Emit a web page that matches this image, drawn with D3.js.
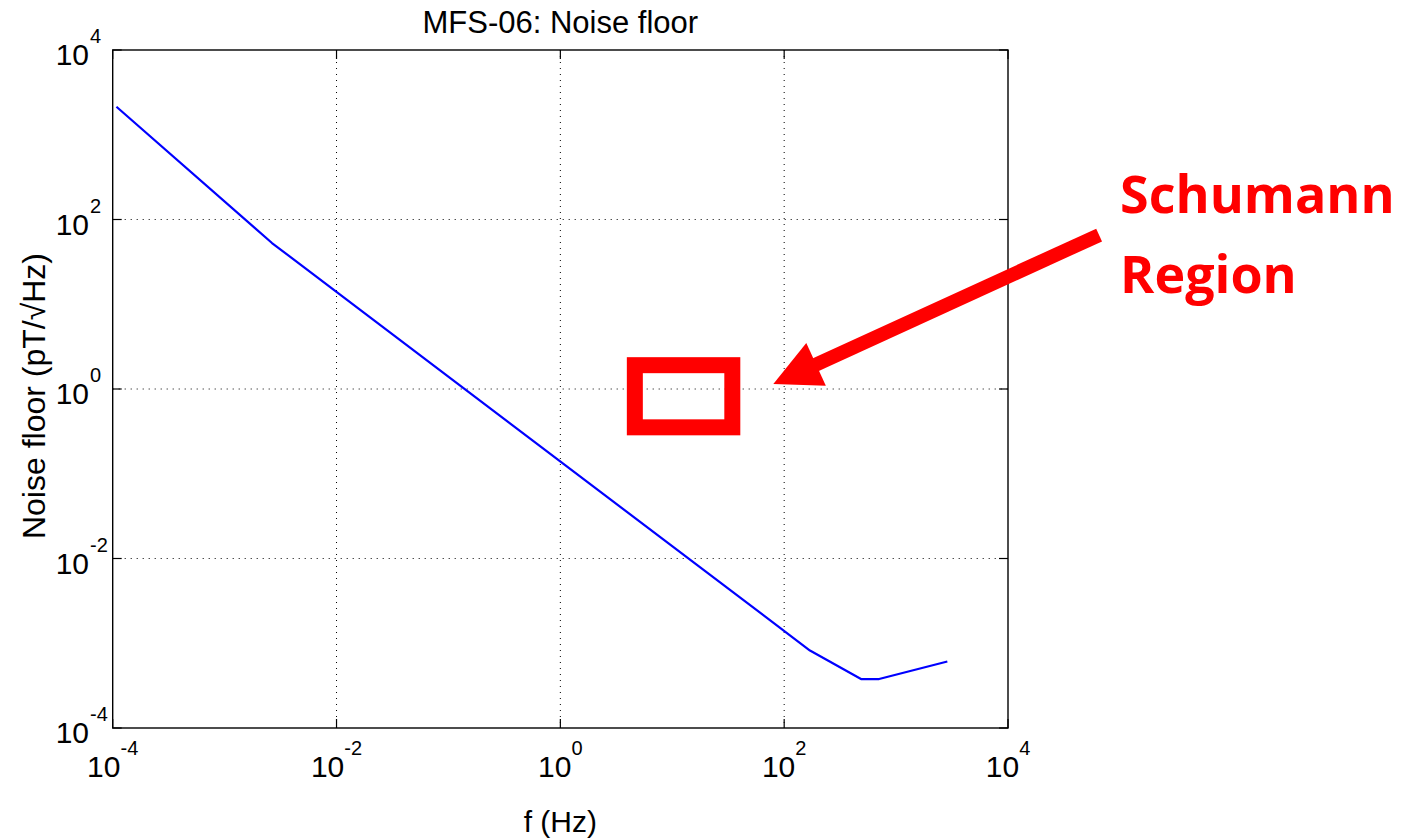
<!DOCTYPE html>
<html>
<head>
<meta charset="utf-8">
<script src="https://cdn.jsdelivr.net/npm/d3@7"></script>
<style>
  body { margin: 0; background: #fff; }
  svg text { font-family: "Liberation Sans", Arial, sans-serif; }
</style>
</head>
<body>
<div id="chart"></div>
<script>
// noise floor curve
const freq = [1.08e-4, 2.65e-3, 170, 486, 705, 2870];
const noise = [2140, 52.8, 8.2e-4, 3.78e-4, 3.78e-4, 6.1e-4];

const tickVals = [1e-4, 1e-2, 1e0, 1e2, 1e4];
const tickExps = ["-4", "-2", "0", "2", "4"];

// annotation, in data units
const boxF = [4.63, 34.4];
const boxN = [0.353, 1.91];
const arrowF = [65200, 80];   // tail, tip
const arrowN = [65.6, 1.146];
const calloutLines = ["Schumann", "Region"];

const svg = d3.select("#chart").append("svg")
    .attr("width", 1424)
    .attr("height", 838);

const margin = { top: 50, right: 416, bottom: 110, left: 112.7 },
    width = 1424 - margin.left - margin.right,
    height = 838 - margin.top - margin.bottom;

const x = d3.scaleLog().domain([1e-4, 1e4]).range([margin.left, margin.left + width]);
const y = d3.scaleLog().domain([1e-4, 1e4]).range([margin.top + height, margin.top]);

// grid
const grid = svg.append("g")
    .attr("stroke", "#000")
    .attr("stroke-width", 1)
    .attr("stroke-dasharray", "1,5");
grid.selectAll(".gx").data(tickVals.slice(1, -1)).enter().append("line")
    .attr("x1", d => x(d)).attr("x2", d => x(d))
    .attr("y1", margin.top).attr("y2", margin.top + height);
grid.selectAll(".gy").data(tickVals.slice(1, -1)).enter().append("line")
    .attr("y1", d => y(d)).attr("y2", d => y(d))
    .attr("x1", margin.left).attr("x2", margin.left + width);

// inward ticks on all four sides
const tk = 9;
const ticks = svg.append("g").attr("stroke", "#000").attr("stroke-width", 1.2);
tickVals.forEach(v => {
    ticks.append("line").attr("x1", x(v)).attr("x2", x(v)).attr("y1", margin.top + height).attr("y2", margin.top + height - tk);
    ticks.append("line").attr("x1", x(v)).attr("x2", x(v)).attr("y1", margin.top).attr("y2", margin.top + tk);
    ticks.append("line").attr("y1", y(v)).attr("y2", y(v)).attr("x1", margin.left).attr("x2", margin.left + tk);
    ticks.append("line").attr("y1", y(v)).attr("y2", y(v)).attr("x1", margin.left + width).attr("x2", margin.left + width - tk);
});

// box
svg.append("rect")
    .attr("x", margin.left).attr("y", margin.top)
    .attr("width", width).attr("height", height)
    .attr("fill", "none").attr("stroke", "#000").attr("stroke-width", 1.4);

// tick labels
const xl = svg.append("g").selectAll("text").data(tickVals).enter().append("text")
    .attr("x", d => x(d))
    .attr("y", margin.top + height + 49)
    .attr("text-anchor", "middle")
    .style("font-size", "30px");
xl.append("tspan").text("10");
xl.append("tspan").attr("dy", -22).style("font-size", "20px").text((d, i) => tickExps[i]);

const yl = svg.append("g").selectAll("text").data(tickVals).enter().append("text")
    .attr("x", margin.left - 57)
    .attr("y", d => y(d) + 15)
    .style("font-size", "30px");
yl.append("tspan").text("10");
yl.append("tspan").attr("dy", -22).attr("dx", 1).style("font-size", "20px").text((d, i) => tickExps[i]);

// titles
svg.append("text")
    .attr("x", margin.left + width / 2)
    .attr("y", 33)
    .attr("text-anchor", "middle")
    .style("font-size", "31px")
    .text("MFS-06: Noise floor");

svg.append("text")
    .attr("x", margin.left + width / 2)
    .attr("y", 832)
    .attr("text-anchor", "middle")
    .style("font-size", "30px")
    .text("f (Hz)");

svg.append("text")
    .attr("transform", `translate(45,${margin.top + height / 2 + 7}) rotate(-90)`)
    .attr("text-anchor", "middle")
    .style("font-size", "32px")
    .text("Noise floor (pT/\u221AHz)");

// curve
const pts = freq.map((f, i) => [f, noise[i]]);
svg.append("path")
    .datum(pts)
    .attr("fill", "none")
    .attr("stroke", "#0000ff")
    .attr("stroke-width", 2.2)
    .attr("stroke-linejoin", "round")
    .attr("d", d3.line().x(d => x(d[0])).y(d => y(d[1])));

// Schumann annotation
svg.append("rect")
    .attr("x", x(boxF[0])).attr("y", y(boxN[1]))
    .attr("width", x(boxF[1]) - x(boxF[0]))
    .attr("height", y(boxN[0]) - y(boxN[1]))
    .attr("fill", "none").attr("stroke", "#ff0000").attr("stroke-width", 16);

const tail = [x(arrowF[0]), y(arrowN[0])], tip = [x(arrowF[1]), y(arrowN[1])];
const dx = tip[0] - tail[0], dy = tip[1] - tail[1], len = Math.hypot(dx, dy);
const ux = dx / len, uy = dy / len;
const headLen = 47, headHalf = 23.5;
const base = [tip[0] - ux * headLen, tip[1] - uy * headLen];
svg.append("line")
    .attr("x1", tail[0]).attr("y1", tail[1])
    .attr("x2", base[0] + ux * 2).attr("y2", base[1] + uy * 2)
    .attr("stroke", "#ff0000").attr("stroke-width", 14);
svg.append("polygon")
    .attr("points", [tip,
        [base[0] - uy * headHalf, base[1] + ux * headHalf],
        [base[0] + uy * headHalf, base[1] - ux * headHalf]].map(p => p.join(",")).join(" "))
    .attr("fill", "#ff0000");

svg.append("g").selectAll("text").data(calloutLines).enter().append("text")
    .attr("x", tail[0] + 21)
    .attr("y", (d, i) => 213 + i * 80)
    .style("font-family", "'Open Sans', sans-serif")
    .style("font-weight", "bold")
    .style("font-size", "52px")
    .attr("fill", "#ff0000")
    .text(d => d);
</script>
</body>
</html>
